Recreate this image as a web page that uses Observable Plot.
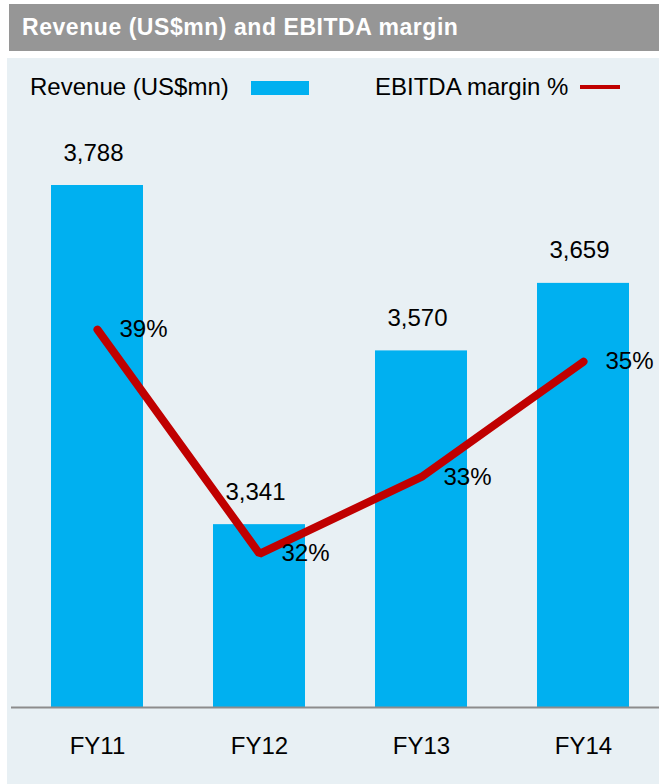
<!DOCTYPE html>
<html>
<head>
<meta charset="utf-8">
<script src="https://cdn.jsdelivr.net/npm/d3@7"></script>
<script src="https://cdn.jsdelivr.net/npm/@observablehq/plot@0.6"></script>
<style>
  html, body { margin: 0; padding: 0; background: #ffffff; }
  body { width: 659px; height: 784px; position: relative; overflow: hidden;
         font-family: "Liberation Sans", Arial, sans-serif; }
  #title { position: absolute; left: 9px; top: 4px; width: 650px; height: 47px;
           background: #969696; color: #ffffff; font-weight: bold; font-size: 23px;
           line-height: 47px; box-sizing: border-box; padding-left: 13px; letter-spacing: 0.55px; }
  #panel { position: absolute; left: 7px; top: 58px; width: 652px; height: 726px; background: #e8f0f4; }
  .lg { position: absolute; font-size: 24px; color: #000; line-height: 28px; top: 73px; }
  #sw1 { position: absolute; left: 251px; top: 81px; width: 58px; height: 14px; background: #00b0f0; }
  #sw2 { position: absolute; left: 580px; top: 85px; width: 40px; height: 4px; background: #c00000; }
  #chart { position: absolute; left: 0; top: 110px; }
</style>
</head>
<body>
<div id="title">Revenue (US$mn) and EBITDA margin</div>
<div id="panel"></div>
<div class="lg" style="left:30px">Revenue (US$mn)</div>
<div id="sw1"></div>
<div class="lg" style="left:375px">EBITDA margin %</div>
<div id="sw2"></div>
<div id="chart"></div>
<script>
// ---- data ----
const years = ["FY11", "FY12", "FY13", "FY14"];
const revenue = [3788, 3341, 3570, 3659];
const revenueLabels = ["3,788", "3,341", "3,570", "3,659"];
const marginLabels = ["39%", "32%", "33%", "35%"];
// EBITDA margin as drawn on the chart's (hidden) secondary axis
const marginPlotted = [39.0, 32.0, 34.4, 38.0];
// axis bounds
const revenueAxis = [3100, 3788];   // primary axis (baseline .. top)
const marginAxis = [27.2, 43.5];    // secondary axis matched to primary

const toPrimary = d3.scaleLinear().domain(marginAxis).range(revenueAxis);

const rows = years.map((y, i) => ({
  year: y,
  revenue: revenue[i],
  revLabel: revenueLabels[i],
  margin: marginPlotted[i],
  marginY: toPrimary(marginPlotted[i]),
  marginLabel: marginLabels[i]
}));

const font = "'Liberation Sans', Arial, sans-serif";

const chart = Plot.plot({
  width: 659,
  height: 674,
  marginLeft: 11,
  marginRight: 0,
  marginTop: 0,
  marginBottom: 77,
  style: { background: "transparent", fontFamily: font, overflow: "visible" },
  x: { domain: years, range: [14, 665.5], paddingInner: 0.43, paddingOuter: 0.215, label: null },
  y: { domain: revenueAxis, range: [597, 75], axis: null },
  marks: [
    Plot.barY(rows, { x: "year", y1: revenueAxis[0], y2: "revenue", fill: "#00b0f0" }),
    Plot.ruleY([revenueAxis[0]], { stroke: "#8c8c8c", strokeWidth: 2 }),
    Plot.text(rows, { x: "year", y: "revenue", text: "revLabel", dx: -4, dy: -25, lineAnchor: "bottom",
                      fontSize: 24, fill: "#000" }),
    Plot.lineY(rows, { x: "year", y: "marginY", stroke: "#c00000", strokeWidth: 8,
                       strokeLinecap: "round", strokeLinejoin: "miter" }),
    Plot.text(rows, { x: "year", y: "marginY", text: "marginLabel", textAnchor: "start", dx: 22,
                      lineAnchor: "middle", fontSize: 24, fill: "#000" }),
    Plot.axisX({ tickSize: 0, tickPadding: 29, fontSize: 24, label: null, fill: "#000" })
  ]
});
document.getElementById("chart").appendChild(chart);
</script>
</body>
</html>
